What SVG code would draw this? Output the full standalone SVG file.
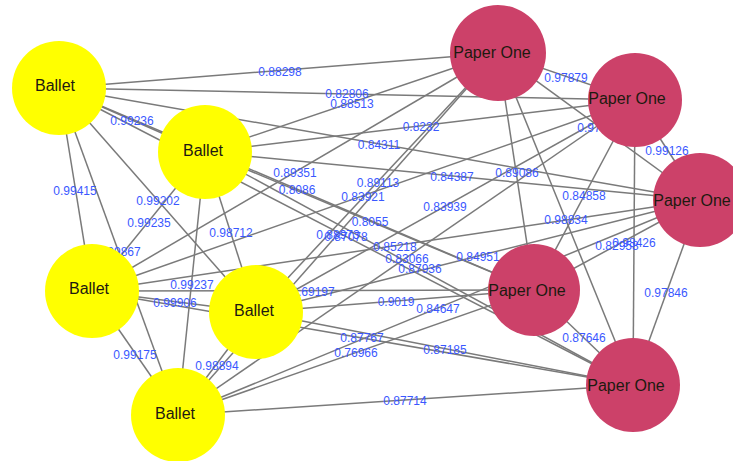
<svg xmlns="http://www.w3.org/2000/svg" width="733" height="461" viewBox="0 0 733 461">
<style>
.e{stroke:#7a7a7a;stroke-width:1.5;fill:none}
.l{font-family:"Liberation Sans",Arial,sans-serif;font-size:12px;fill:#3a58ff;text-anchor:middle;dominant-baseline:central}
.b{fill:#ffff00}
.p{fill:#cc4169}
.t{font-family:"Liberation Sans",Arial,sans-serif;font-size:16px;fill:#1e1a10;text-anchor:middle;dominant-baseline:central}
</style>
<rect width="733" height="461" fill="#ffffff"/>
<g id="connectors">
<line class="e" x1="59" y1="88" x2="205" y2="152"/>
<line class="e" x1="59" y1="88" x2="92" y2="291"/>
<line class="e" x1="59" y1="88" x2="256" y2="312"/>
<line class="e" x1="59" y1="88" x2="178" y2="415"/>
<line class="e" x1="205" y1="152" x2="92" y2="291"/>
<line class="e" x1="205" y1="152" x2="256" y2="312"/>
<line class="e" x1="205" y1="152" x2="178" y2="415"/>
<line class="e" x1="92" y1="291" x2="256" y2="312"/>
<line class="e" x1="92" y1="291" x2="178" y2="415"/>
<line class="e" x1="256" y1="312" x2="178" y2="415"/>
<line class="e" x1="498" y1="53" x2="635" y2="100"/>
<line class="e" x1="498" y1="53" x2="700" y2="200"/>
<line class="e" x1="498" y1="53" x2="534" y2="290"/>
<line class="e" x1="498" y1="53" x2="633" y2="385"/>
<line class="e" x1="635" y1="100" x2="700" y2="200"/>
<line class="e" x1="635" y1="100" x2="534" y2="290"/>
<line class="e" x1="635" y1="100" x2="633" y2="385"/>
<line class="e" x1="700" y1="200" x2="534" y2="290"/>
<line class="e" x1="700" y1="200" x2="633" y2="385"/>
<line class="e" x1="534" y1="290" x2="633" y2="385"/>
<line class="e" x1="59" y1="88" x2="498" y2="53"/>
<line class="e" x1="59" y1="88" x2="635" y2="100"/>
<line class="e" x1="59" y1="88" x2="700" y2="200"/>
<line class="e" x1="59" y1="88" x2="534" y2="290"/>
<line class="e" x1="59" y1="88" x2="633" y2="385"/>
<line class="e" x1="205" y1="152" x2="498" y2="53"/>
<line class="e" x1="205" y1="152" x2="635" y2="100"/>
<line class="e" x1="205" y1="152" x2="700" y2="200"/>
<line class="e" x1="205" y1="152" x2="534" y2="290"/>
<line class="e" x1="205" y1="152" x2="633" y2="385"/>
<line class="e" x1="92" y1="291" x2="498" y2="53"/>
<line class="e" x1="92" y1="291" x2="635" y2="100"/>
<line class="e" x1="92" y1="291" x2="700" y2="200"/>
<line class="e" x1="92" y1="291" x2="534" y2="290"/>
<line class="e" x1="92" y1="291" x2="633" y2="385"/>
<line class="e" x1="256" y1="312" x2="498" y2="53"/>
<line class="e" x1="256" y1="312" x2="635" y2="100"/>
<line class="e" x1="256" y1="312" x2="700" y2="200"/>
<line class="e" x1="256" y1="312" x2="534" y2="290"/>
<line class="e" x1="256" y1="312" x2="633" y2="385"/>
<line class="e" x1="178" y1="415" x2="498" y2="53"/>
<line class="e" x1="178" y1="415" x2="635" y2="100"/>
<line class="e" x1="178" y1="415" x2="700" y2="200"/>
<line class="e" x1="178" y1="415" x2="534" y2="290"/>
<line class="e" x1="178" y1="415" x2="633" y2="385"/>
<text class="l" x="132" y="121">0.99236</text>
<text class="l" x="75" y="191">0.99415</text>
<text class="l" x="158" y="201">0.99202</text>
<text class="l" x="119" y="252">0.99867</text>
<text class="l" x="149" y="223">0.99235</text>
<text class="l" x="231" y="233">0.98712</text>
<text class="l" x="192" y="285">0.99237</text>
<text class="l" x="175" y="303">0.99906</text>
<text class="l" x="135" y="355">0.99175</text>
<text class="l" x="217" y="366">0.98894</text>
<text class="l" x="566" y="78">0.97879</text>
<text class="l" x="599" y="128">0.97414</text>
<text class="l" x="517" y="173">0.89086</text>
<text class="l" x="566" y="220">0.98834</text>
<text class="l" x="667" y="151">0.99126</text>
<text class="l" x="584" y="196">0.84858</text>
<text class="l" x="634" y="243">0.98426</text>
<text class="l" x="617" y="246">0.82958</text>
<text class="l" x="666" y="293">0.97846</text>
<text class="l" x="584" y="338">0.87646</text>
<text class="l" x="280" y="72">0.88298</text>
<text class="l" x="347" y="94">0.82806</text>
<text class="l" x="379" y="145">0.84311</text>
<text class="l" x="297" y="190">0.8086</text>
<text class="l" x="346" y="237">0.87078</text>
<text class="l" x="352" y="104">0.88513</text>
<text class="l" x="421" y="127">0.8232</text>
<text class="l" x="452" y="177">0.84387</text>
<text class="l" x="370" y="222">0.8055</text>
<text class="l" x="420" y="269">0.87936</text>
<text class="l" x="295" y="173">0.89351</text>
<text class="l" x="363" y="197">0.83921</text>
<text class="l" x="395" y="247">0.85218</text>
<text class="l" x="313" y="292">0.69197</text>
<text class="l" x="362" y="338">0.87767</text>
<text class="l" x="378" y="183">0.89113</text>
<text class="l" x="445" y="207">0.83939</text>
<text class="l" x="478" y="257">0.84951</text>
<text class="l" x="396" y="302">0.9019</text>
<text class="l" x="445" y="350">0.87185</text>
<text class="l" x="338" y="235">0.88973</text>
<text class="l" x="407" y="259">0.83066</text>
<text class="l" x="438" y="309">0.84647</text>
<text class="l" x="356" y="353">0.76966</text>
<text class="l" x="405" y="401">0.87714</text>
</g>
<g id="ballet1"><circle class="b" cx="59" cy="88" r="47"/><text class="t" x="55" y="85">Ballet</text></g>
<g id="ballet2"><circle class="b" cx="205" cy="152" r="47"/><text class="t" x="203" y="150">Ballet</text></g>
<g id="ballet3"><circle class="b" cx="92" cy="291" r="47"/><text class="t" x="89" y="288">Ballet</text></g>
<g id="ballet4"><circle class="b" cx="256" cy="312" r="47"/><text class="t" x="254" y="310">Ballet</text></g>
<g id="ballet5"><circle class="b" cx="178" cy="415" r="47"/><text class="t" x="175" y="413">Ballet</text></g>
<g id="paper1"><circle class="p" cx="498" cy="53" r="48"/><text class="t" x="492" y="52">Paper One</text></g>
<g id="paper2"><circle class="p" cx="635" cy="100" r="47"/><text class="t" x="627" y="98">Paper One</text></g>
<g id="paper3"><circle class="p" cx="700" cy="200" r="47"/><text class="t" x="692" y="200">Paper One</text></g>
<g id="paper4"><circle class="p" cx="534" cy="290" r="46"/><text class="t" x="527" y="290">Paper One</text></g>
<g id="paper5"><circle class="p" cx="633" cy="385" r="47"/><text class="t" x="626" y="385">Paper One</text></g>
</svg>
